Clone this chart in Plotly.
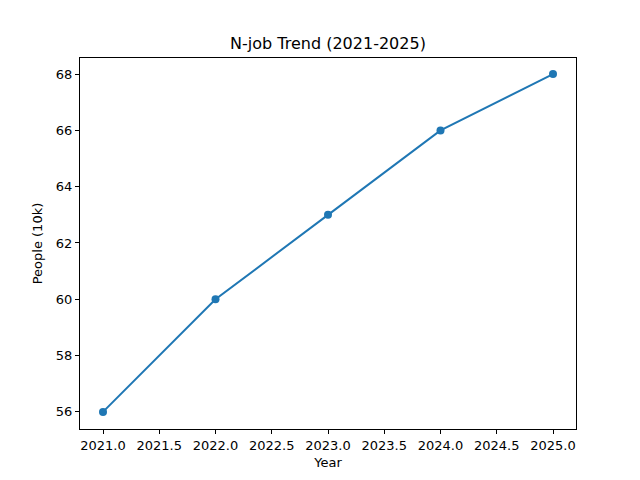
import plotly.graph_objects as go

years = [2021, 2022, 2023, 2024, 2025]
people = [56, 60, 63, 66, 68]
x_ticks = [2021.0, 2021.5, 2022.0, 2022.5, 2023.0, 2023.5, 2024.0, 2024.5, 2025.0]
y_ticks = [56, 58, 60, 62, 64, 66, 68]

fig = go.Figure()
fig.add_trace(go.Scatter(
    x=years, y=people, mode="lines+markers",
    line=dict(color="#1f77b4", width=2),
    marker=dict(color="#1f77b4", size=8),
    showlegend=False,
))

axis_common = dict(
    showline=True, linecolor="black", linewidth=1, mirror=True,
    ticks="outside", ticklen=4, tickwidth=1, tickcolor="black",
    showgrid=False, zeroline=False,
    tickfont=dict(family="DejaVu Sans", size=13, color="black"),
)

fig.update_layout(
    width=632, height=472,
    paper_bgcolor="white", plot_bgcolor="white",
    margin=dict(l=72, r=64, t=50, b=45),
    font=dict(family="DejaVu Sans", size=13, color="black"),
    title=dict(text="N-job Trend (2021-2025)", x=320 / 632, xanchor="center",
               y=1 - 35 / 472, yanchor="middle",
               font=dict(family="DejaVu Sans", size=16, color="black")),
    xaxis=dict(axis_common, range=[2020.7956, 2025.2044],
               tickvals=x_ticks, ticktext=[f"{v:.1f}" for v in x_ticks],
               title=dict(text="Year", standoff=6,
                          font=dict(family="DejaVu Sans", size=13))),
    yaxis=dict(axis_common, range=[55.393, 68.571],
               tickvals=y_ticks, ticktext=[str(v) for v in y_ticks],
               title=dict(text="People (10k)", standoff=10,
                          font=dict(family="DejaVu Sans", size=13))),
)

fig.write_html("out.html")
